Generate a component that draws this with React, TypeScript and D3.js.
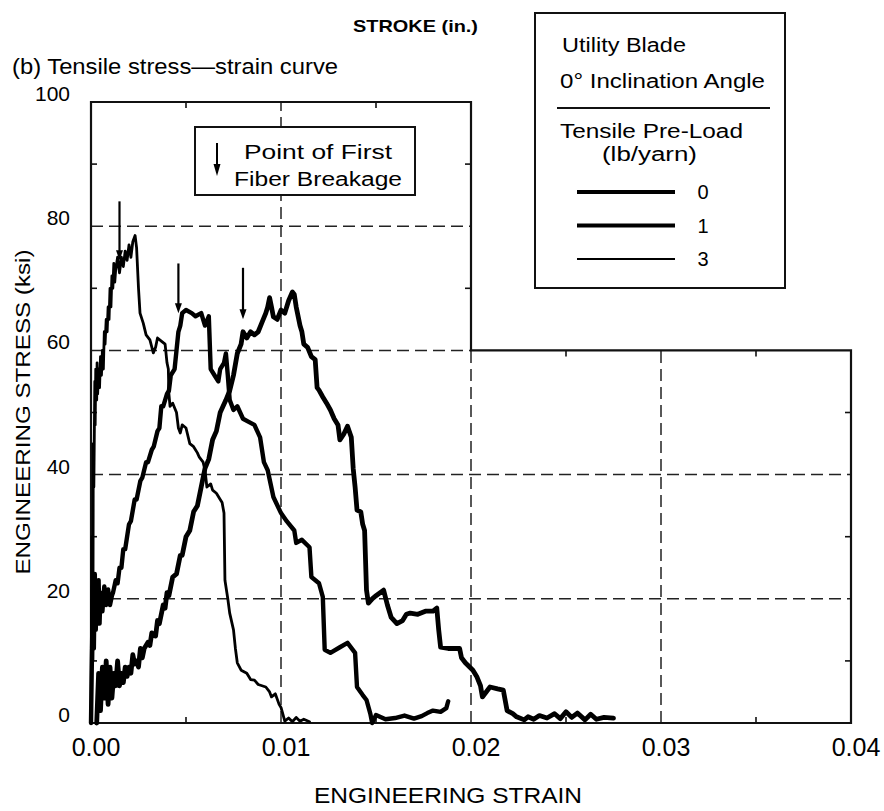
import React from "react";
import * as d3 from "d3";

// ---------- data ----------
const strainTicks = [0, 0.01, 0.02, 0.03, 0.04];
const stressTicks = [0, 20, 40, 60, 80, 100];
const minorStress = [10, 30, 50, 70, 90];
const minorStrain = [0.005, 0.015, 0.025, 0.035];

const legendLabels = ["0", "1", "3"];

// Pre-load 0 lb/yarn (thickest)
const preload0: [number, number][] = [
  [0.0003, 0], [0.0004, 8], [0.0005, 2], [0.0006, 9], [0.0007, 4], [0.0008, 10], [0.0009, 3],
  [0.001, 9], [0.0011, 4], [0.0012, 8], [0.0013, 6], [0.0014, 10], [0.0015, 6], [0.0016, 8], [0.0017, 6.5],
  [0.0018, 9], [0.0019, 7.5], [0.002, 9], [0.0021, 8], [0.0022, 11], [0.0023, 9.5], [0.0024, 10],
  [0.0025, 9], [0.0026, 12], [0.0027, 10.5], [0.0028, 12], [0.003, 13], [0.0031, 12.5], [0.0032, 14.5],
  [0.0034, 14], [0.0035, 16.5], [0.0036, 16], [0.0038, 19], [0.0039, 18.5], [0.004, 21], [0.0041, 20.5],
  [0.0043, 23.5], [0.0045, 24], [0.0047, 27], [0.0048, 27], [0.005, 30], [0.0052, 31], [0.0054, 34],
  [0.0056, 35], [0.0058, 38], [0.006, 41], [0.0062, 42.5], [0.0064, 45.6], [0.0066, 47], [0.0068, 50],
  [0.0071, 52], [0.0073, 53.5], [0.0075, 56],
  [0.0077, 59.5], [0.0079, 61], [0.008, 63], [0.0082, 62], [0.0084, 63], [0.0086, 62.5], [0.0088, 63],
  [0.009, 64.5], [0.0092, 66], [0.0093, 67], [0.0094, 68.5], [0.0095, 67], [0.0096, 65.4], [0.0098, 65],
  [0.01, 66.5], [0.0102, 66], [0.0104, 68], [0.0106, 69.4], [0.0107, 69], [0.0108, 67], [0.011, 64],
  [0.0111, 63], [0.0112, 61], [0.0114, 60.5], [0.0116, 59], [0.0118, 58.5], [0.0119, 54], [0.012, 53.6],
  [0.0122, 52.5], [0.0124, 51.5], [0.0126, 50.4], [0.0128, 49], [0.013, 48], [0.0131, 45.6], [0.0133, 46.5],
  [0.0135, 47.8], [0.0137, 46], [0.0138, 41], [0.0139, 38], [0.014, 34.3], [0.0142, 34], [0.0143, 32],
  [0.0144, 31], [0.0145, 21.4], [0.0146, 19.3], [0.0148, 20], [0.015, 20.5], [0.0154, 21.4], [0.0156, 19],
  [0.0158, 17], [0.0161, 16], [0.0164, 16.5], [0.0166, 17.5], [0.0168, 17.7], [0.0172, 17.5], [0.0176, 18],
  [0.018, 18], [0.0182, 18.5], [0.0183, 15], [0.0184, 12.2], [0.0188, 12], [0.0194, 12], [0.0195, 10.5],
  [0.0197, 9.7], [0.0201, 8.5], [0.0203, 7.5], [0.0205, 6], [0.0206, 4.2], [0.0208, 5], [0.021, 5.8],
  [0.0214, 5.5], [0.0217, 5.3], [0.0219, 2], [0.0222, 1.5], [0.0224, 1], [0.0228, 0.5], [0.023, 1],
  [0.0233, 0.6], [0.0236, 1.2], [0.024, 0.8], [0.0244, 1.5], [0.0247, 0.7], [0.025, 1.8], [0.0253, 0.9],
  [0.0256, 1.6], [0.026, 0.5], [0.0263, 1.4], [0.0266, 0.6], [0.027, 0.9], [0.0275, 0.8],
];

// Pre-load 1 lb/yarn
const preload1: [number, number][] = [
  [0, 0], [0.0001, 22], [0.00015, 12], [0.0002, 24], [0.00025, 15], [0.0003, 22], [0.00035, 17],
  [0.0004, 23], [0.00045, 16], [0.0005, 21], [0.0006, 18], [0.0007, 22], [0.0008, 19], [0.0009, 21.5],
  [0.001, 19], [0.0011, 20.5], [0.00116, 21], [0.0013, 23], [0.0014, 22.5], [0.0015, 25], [0.0016, 25],
  [0.0017, 28], [0.0018, 28], [0.002, 32], [0.0021, 32.5], [0.0023, 36], [0.0024, 36], [0.0026, 39],
  [0.0027, 39.5], [0.0029, 42], [0.003, 42], [0.0032, 44], [0.0033, 44.5], [0.0035, 47], [0.0036, 47.5],
  [0.0037, 51], [0.0038, 51], [0.004, 53], [0.0041, 53.5],
  [0.0042, 56], [0.0044, 57], [0.0045, 60], [0.0046, 63], [0.0047, 64], [0.0048, 66], [0.005, 66.5],
  [0.0053, 66], [0.0055, 65.5], [0.0058, 66], [0.006, 64], [0.0062, 65.5], [0.0063, 57], [0.0065, 56],
  [0.0067, 55], [0.0068, 57], [0.007, 58], [0.0071, 59.5], [0.0072, 56], [0.0073, 52], [0.0075, 50.4],
  [0.0077, 51], [0.008, 49], [0.0083, 48.5], [0.0086, 48], [0.0089, 46], [0.0091, 42], [0.0093, 40.7],
  [0.0096, 36.4], [0.01, 33.8], [0.0103, 32.5], [0.0107, 31], [0.0108, 29], [0.0111, 29.5], [0.0115, 28.3],
  [0.0116, 23.5], [0.012, 22.5], [0.0122, 20.3], [0.0123, 11.8], [0.0126, 11.3], [0.0131, 12.2],
  [0.0135, 12.9], [0.0139, 11.3], [0.014, 5.8], [0.0143, 4.5], [0.0145, 3.7], [0.0147, 1.5], [0.0148, 0],
  [0.015, 1.3], [0.0155, 0.6], [0.016, 0.8], [0.0165, 1.2], [0.017, 0.7], [0.0174, 1.1], [0.0177, 1.6],
  [0.018, 2], [0.0184, 1.8], [0.0187, 2.4], [0.0188, 3.5],
];

// Pre-load 3 lb/yarn (thin)
const preload3: [number, number][] = [
  [0, 0], [0.00005, 30], [0.0001, 10], [0.00012, 45], [0.00015, 38], [0.0002, 55], [0.00022, 48],
  [0.00025, 57], [0.0003, 52], [0.00032, 58], [0.00035, 53], [0.0004, 57], [0.00045, 54], [0.0005, 59],
  [0.00055, 56], [0.0006, 60], [0.00065, 57], [0.0007, 63], [0.00074, 61], [0.0008, 65], [0.00085, 63],
  [0.0009, 67], [0.00095, 65], [0.001, 70], [0.00105, 67], [0.0011, 72], [0.00115, 70], [0.0012, 74],
  [0.00125, 71], [0.0013, 73], [0.0014, 75], [0.0015, 72.5], [0.0016, 75], [0.0017, 73.5], [0.0018, 76],
  [0.0019, 74.5], [0.002, 77], [0.0021, 75], [0.0022, 77.5], [0.00232, 78.5], [0.0024, 76.5],
  [0.0025, 70], [0.00258, 66], [0.00275, 64.4], [0.0029, 62.5], [0.0031, 61.7],
  [0.00328, 59.6], [0.0034, 60.5], [0.0035, 62], [0.0037, 61.5], [0.0039, 61], [0.004, 58], [0.00407, 57],
  [0.0041, 53], [0.00416, 51], [0.0043, 51.5], [0.0045, 50], [0.0046, 47.5], [0.0047, 46.7], [0.0048, 48],
  [0.005, 47.5], [0.0052, 45], [0.0054, 44.5], [0.0056, 43.5], [0.0057, 42.8], [0.0059, 42], [0.006, 40.7],
  [0.0061, 38], [0.0063, 38.5], [0.0064, 37.5], [0.0066, 37], [0.0068, 36], [0.0069, 35.5], [0.007, 33.8],
  [0.00705, 23], [0.0072, 20], [0.0073, 17.7], [0.0075, 15], [0.0076, 12], [0.0077, 9.7], [0.0079, 8.5],
  [0.0082, 8], [0.0084, 7], [0.0086, 6.9], [0.0088, 6.2], [0.0092, 5.8], [0.0094, 5], [0.0095, 4.2],
  [0.0097, 4.7], [0.0099, 3], [0.01, 2.5], [0.0102, 0.3], [0.0104, 0.8], [0.0106, 0.2], [0.0108, 0.9],
  [0.011, 0.3], [0.0112, 0.6], [0.0115, 0.2],
];

// first fiber breakage arrows: [strain, top stress, tip stress]
const breakArrows: [number, number, number][] = [
  [0.0015, 84, 74.5],
  [0.0046, 74, 66],
  [0.008, 73.3, 65],
];

const series = [
  { label: "0", data: preload0, width: 4.8 },
  { label: "1", data: preload1, width: 4.4 },
  { label: "3", data: preload3, width: 2.8 },
];
const legendWidths = [4, 3.8, 2];

// ---------- layout ----------
const W = 884;
const H = 811;
const X0 = 91;
const X1 = 851;
const Y0 = 723;
const Y1 = 102;
const FONT = "'Liberation Sans', Arial, sans-serif";

export default function App() {
  const x = d3.scaleLinear().domain([0, 0.04]).range([X0, X1]);
  const y = d3.scaleLinear().domain([0, 100]).range([Y0, Y1]);
  const line = d3
    .line<[number, number]>()
    .x((d) => x(d[0]))
    .y((d) => y(d[1]));

  const frame = [
    [0, 0], [0, 100], [0.02, 100], [0.02, 60], [0.04, 60], [0.04, 0],
  ].map(([a, b]) => `${x(a)},${y(b)}`);

  const dash = "12,6";
  const gridV: [number, number, number][] = [
    [0.01, 0, 100], [0.02, 0, 60], [0.03, 0, 60],
  ];
  const gridH: [number, number, number][] = [
    [80, 0, 0.02], [60, 0, 0.02], [40, 0, 0.04], [20, 0, 0.04],
  ];
  const tl = 6;
  const fmtX = d3.format(".2f");

  return (
    <svg
      width={W}
      height={H}
      style={{ position: "absolute", left: 0, top: 0, background: "#fff" }}
      fontFamily={FONT}
    >
      <rect x={0} y={0} width={W} height={H} fill="#fff" />
      {/* grid */}
      <g stroke="#222" strokeWidth={1.5} strokeDasharray={dash} fill="none">
        {gridV.map(([s, a, b], i) => (
          <line key={"gv" + i} x1={x(s)} x2={x(s)} y1={y(a)} y2={y(b)} />
        ))}
        {gridH.map(([v, a, b], i) => (
          <line key={"gh" + i} x1={x(a)} x2={x(b)} y1={y(v)} y2={y(v)} />
        ))}
      </g>
      {/* ticks */}
      <g stroke="#111" strokeWidth={1.6}>
        {minorStress.map((v) => (
          <line key={"lt" + v} x1={x(0)} x2={x(0) + tl} y1={y(v)} y2={y(v)} />
        ))}
        {minorStress.filter((v) => v > 60).map((v) => (
          <line key={"rt" + v} x1={x(0.02)} x2={x(0.02) - tl} y1={y(v)} y2={y(v)} />
        ))}
        {minorStress.filter((v) => v < 60).map((v) => (
          <line key={"rr" + v} x1={x(0.04)} x2={x(0.04) - tl} y1={y(v)} y2={y(v)} />
        ))}
        {minorStrain.map((s) => (
          <line key={"bt" + s} x1={x(s)} x2={x(s)} y1={y(0)} y2={y(0) - tl} />
        ))}
        {minorStrain.map((s) => (
          <line
            key={"tt" + s}
            x1={x(s)}
            x2={x(s)}
            y1={s < 0.02 ? y(100) : y(60)}
            y2={(s < 0.02 ? y(100) : y(60)) + tl}
          />
        ))}
      </g>
      {/* frame */}
      <polygon points={frame.join(" ")} fill="none" stroke="#111" strokeWidth={2.2} />

      {/* curves */}
      {series.map((s) => (
        <path
          key={s.label}
          d={line(s.data) || ""}
          fill="none"
          stroke="#000"
          strokeWidth={s.width}
          strokeLinejoin="round"
          strokeLinecap="round"
        />
      ))}

      {/* breakage arrows */}
      {breakArrows.map(([s, top, tip], i) => (
        <g key={"ar" + i}>
          <line x1={x(s)} x2={x(s)} y1={y(top)} y2={y(tip) - 8} stroke="#000" strokeWidth={2.2} />
          <path
            d={`M${x(s) - 3.5},${y(tip) - 10} L${x(s) + 3.5},${y(tip) - 10} L${x(s)},${y(tip)} Z`}
            fill="#000"
          />
        </g>
      ))}

      {/* annotation box */}
      <rect x={195} y={127} width={220} height={68} fill="#fff" stroke="#111" strokeWidth={2} />
      <line x1={217} x2={217} y1={143} y2={166} stroke="#000" strokeWidth={2} />
      <path d="M213.5,164 L220.5,164 L217,176 Z" fill="#000" />
      <text x={318} y={159} fontSize={20} textAnchor="middle" textLength={148} lengthAdjust="spacingAndGlyphs">
        Point of First
      </text>
      <text x={318} y={186} fontSize={20} textAnchor="middle" textLength={168} lengthAdjust="spacingAndGlyphs">
        Fiber Breakage
      </text>

      {/* y tick labels */}
      {stressTicks.map((v) => (
        <text key={"yl" + v} x={70} y={y(v) - 1} fontSize={21} textAnchor="end">
          {v}
        </text>
      ))}
      {/* x tick labels */}
      {strainTicks.map((s) => (
        <text key={"xl" + s} x={x(s) + 5} y={756} fontSize={25} textAnchor="middle">
          {fmtX(s)}
        </text>
      ))}

      {/* axis titles */}
      <text
        x={448}
        y={803}
        fontSize={22}
        textAnchor="middle"
        textLength={268}
        lengthAdjust="spacingAndGlyphs"
      >
        ENGINEERING STRAIN
      </text>
      <text
        transform={`translate(30, 412) rotate(-90)`}
        fontSize={20}
        textAnchor="middle"
        textLength={325}
        lengthAdjust="spacingAndGlyphs"
      >
        ENGINEERING STRESS (ksi)
      </text>

      {/* titles */}
      <text x={353} y={32} fontSize={17} fontWeight="bold" textLength={125} lengthAdjust="spacingAndGlyphs">
        STROKE (in.)
      </text>
      <text x={12} y={74} fontSize={22} textLength={326} lengthAdjust="spacingAndGlyphs">
        (b) Tensile stress—strain curve
      </text>

      {/* legend */}
      <rect x={535} y={13} width={250} height={275} fill="#fff" stroke="#111" strokeWidth={2} />
      <text x={562} y={52} fontSize={20} textLength={124} lengthAdjust="spacingAndGlyphs">Utility Blade</text>
      <text x={560} y={88} fontSize={20} textLength={205} lengthAdjust="spacingAndGlyphs">0° Inclination Angle</text>
      <line x1={557} x2={770} y1={108} y2={108} stroke="#111" strokeWidth={2} />
      <text x={560} y={138} fontSize={20} textLength={183} lengthAdjust="spacingAndGlyphs">Tensile Pre-Load</text>
      <text x={602} y={161} fontSize={20} textLength={95} lengthAdjust="spacingAndGlyphs">(lb/yarn)</text>
      {series.map((s, i) => (
        <g key={"lg" + s.label}>
          <line
            x1={577}
            x2={675}
            y1={192 + i * 33.5}
            y2={192 + i * 33.5}
            stroke="#000"
            strokeWidth={legendWidths[i]}
          />
          <text x={703} y={199 + i * 33.5} fontSize={20} textAnchor="middle">
            {legendLabels[i]}
          </text>
        </g>
      ))}
    </svg>
  );
}
